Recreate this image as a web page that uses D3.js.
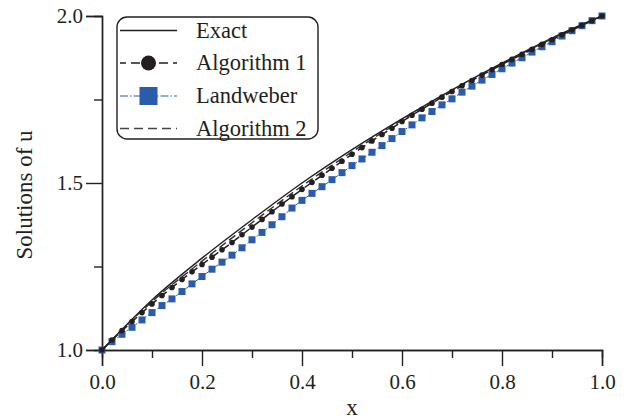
<!DOCTYPE html>
<html>
<head>
<meta charset="utf-8">
<script src="https://cdn.jsdelivr.net/npm/d3@7"></script>
<style>
  html, body { margin: 0; padding: 0; background: #fff; }
  svg { display: block; }
  text { font-family: "Liberation Serif", "Times New Roman", serif; fill: #231f20; }
</style>
</head>
<body>
<svg id="chart" width="632" height="419"></svg>
<script>
// ---- data ----
const xCoarse = [0, 0.1, 0.2, 0.3, 0.4, 0.5, 0.6, 0.7, 0.8, 0.9, 1.0];
const exactValues = [1.000, 1.150, 1.275, 1.390, 1.500, 1.600, 1.692, 1.779, 1.859, 1.934, 2.000];
const alg2Values  = [1.000, 1.145, 1.266, 1.381, 1.491, 1.593, 1.688, 1.777, 1.857, 1.932, 2.000];

const xFine = [0,0.02,0.04,0.06,0.08,0.10,0.12,0.14,0.16,0.18,0.20,0.22,0.24,0.26,0.28,0.30,0.32,0.34,0.36,0.38,0.40,
  0.42,0.44,0.46,0.48,0.50,0.52,0.54,0.56,0.58,0.60,0.62,0.64,0.66,0.68,0.70,0.72,0.74,0.76,0.78,0.80,
  0.82,0.84,0.86,0.88,0.90,0.92,0.94,0.96,0.98,1.00];
const alg1Values = [1.000,1.030,1.058,1.085,1.112,1.138,1.163,1.187,1.211,1.234,1.256,1.278,1.300,1.322,1.345,1.368,1.391,1.414,1.437,1.459,1.481,
  1.502,1.523,1.544,1.565,1.586,1.606,1.626,1.645,1.664,1.684,1.703,1.721,1.739,1.757,1.774,1.791,1.807,1.823,1.839,1.855,
  1.870,1.885,1.900,1.915,1.929,1.944,1.958,1.972,1.986,2.000];
const landweberValues = [1.000,1.025,1.047,1.068,1.090,1.112,1.133,1.153,1.175,1.198,1.220,1.242,1.263,1.284,1.306,1.330,1.352,1.375,1.399,1.425,1.448,
  1.469,1.489,1.510,1.531,1.552,1.572,1.592,1.612,1.633,1.654,1.674,1.695,1.714,1.734,1.752,1.772,1.790,1.808,1.825,1.842,
  1.859,1.875,1.892,1.908,1.923,1.940,1.956,1.971,1.986,2.000];

const xMajorTicks = [0, 0.2, 0.4, 0.6, 0.8, 1.0];
const xMinorTicks = [0.1, 0.3, 0.5, 0.7, 0.9];
const yMajorTicks = [1.0, 1.5, 2.0];
const yMinorTicks = [1.25, 1.75];
const legendLabels = ["Exact", "Algorithm 1", "Landweber", "Algorithm 2"];

// ---- drawing ----
const svg = d3.select("#chart");
const x = d3.scaleLinear().domain([0, 1]).range([102, 602]);
const y = d3.scaleLinear().domain([1, 2]).range([350, 16]);
const ink = "#231f20";
const blue = "#2b5cab";

// axes
const xAxisMajor = d3.axisBottom(x).tickValues(xMajorTicks).tickSize(16).tickPadding(8).tickFormat(d3.format(".1f"));
const xAxisMinor = d3.axisBottom(x).tickValues(xMinorTicks).tickSize(8).tickFormat("");
const yAxisMajor = d3.axisLeft(y).tickValues(yMajorTicks).tickSize(16).tickPadding(3).tickFormat(d3.format(".1f"));
const yAxisMinor = d3.axisLeft(y).tickValues(yMinorTicks).tickSize(8).tickFormat("");

function styleAxis(g) {
  g.selectAll("path.domain").attr("stroke", ink).attr("stroke-width", 1.4);
  g.selectAll("line").attr("stroke", ink).attr("stroke-width", 1.4);
  g.selectAll("text").attr("font-size", 21).attr("fill", ink)
    .style("font-family", '"Liberation Serif", "Times New Roman", serif');
}
svg.append("g").attr("transform", "translate(0,350)").call(xAxisMinor).call(styleAxis);
svg.append("g").attr("transform", "translate(0,350)").call(xAxisMajor).call(styleAxis);
svg.append("g").attr("transform", "translate(102,0)").call(yAxisMinor).call(styleAxis);
svg.append("g").attr("transform", "translate(102,0)").call(yAxisMajor).call(styleAxis);

// axis titles
svg.append("text").attr("x", 352).attr("y", 415).attr("text-anchor", "middle")
  .attr("font-size", 23).text("x");
svg.append("text").attr("transform", "translate(32,195) rotate(-90)").attr("text-anchor", "middle")
  .attr("font-size", 23).text("Solutions of u");

// series
const line = d3.line().x(d => x(d[0])).y(d => y(d[1]));
const exactData = xCoarse.map((v, i) => [v, exactValues[i]]);
const alg2Data = xCoarse.map((v, i) => [v, alg2Values[i]]);
const alg1Data = xFine.map((v, i) => [v, alg1Values[i]]);
const lwData = xFine.map((v, i) => [v, landweberValues[i]]);
const smooth = d3.line().x(d => x(d[0])).y(d => y(d[1])).curve(d3.curveMonotoneX);

// Landweber
svg.append("path").datum(lwData).attr("d", line).attr("fill", "none")
  .attr("stroke", blue).attr("stroke-width", 1).attr("stroke-dasharray", "6,2,1.5,2");
svg.append("g").selectAll("rect").data(lwData).join("rect")
  .attr("x", d => x(d[0]) - 3.5).attr("y", d => y(d[1]) - 3.5)
  .attr("width", 7).attr("height", 7).attr("fill", blue);

// Exact
svg.append("path").datum(exactData).attr("d", smooth).attr("fill", "none")
  .attr("stroke", ink).attr("stroke-width", 1.4);

// Algorithm 2
svg.append("path").datum(alg2Data).attr("d", smooth).attr("fill", "none")
  .attr("stroke", "#333").attr("stroke-width", 1.4).attr("stroke-dasharray", "8,4");

// Algorithm 1
svg.append("path").datum(alg1Data).attr("d", line).attr("fill", "none")
  .attr("stroke", ink).attr("stroke-width", 1.5).attr("stroke-dasharray", "9,4");
svg.append("g").selectAll("circle").data(alg1Data).join("circle")
  .attr("cx", d => x(d[0])).attr("cy", d => y(d[1])).attr("r", 2.8).attr("fill", ink);

// legend
const lg = svg.append("g");
lg.append("rect").attr("x", 117).attr("y", 17).attr("width", 201).attr("height", 122)
  .attr("rx", 10).attr("ry", 10).attr("fill", "#fff").attr("stroke", ink).attr("stroke-width", 1.4);
const rowY = [30.5, 63, 96, 128.5];
legendLabels.forEach((lab, i) => {
  const yy = rowY[i];
  const ln = lg.append("line").attr("x1", 120).attr("x2", 177).attr("y1", yy).attr("y2", yy)
    .attr("stroke-width", 1.3);
  if (i === 0) ln.attr("stroke", ink);
  if (i === 1) ln.attr("stroke", ink).attr("stroke-dasharray", "9,5").attr("stroke-dashoffset", 3);
  if (i === 2) ln.attr("stroke", blue).attr("stroke-width", 1).attr("stroke-dasharray", "8,2,1.5,2");
  if (i === 3) ln.attr("stroke", "#444").attr("stroke-dasharray", "9,5").attr("stroke-dashoffset", 0);
  if (i === 1) lg.append("circle").attr("cx", 148.5).attr("cy", yy).attr("r", 7.5).attr("fill", ink);
  if (i === 2) lg.append("rect").attr("x", 139.5).attr("y", yy - 9).attr("width", 18).attr("height", 18).attr("fill", blue);
  lg.append("text").attr("x", 196).attr("y", yy).attr("dy", "0.33em")
    .attr("font-size", 22.5).text(lab);
});
</script>
</body>
</html>
